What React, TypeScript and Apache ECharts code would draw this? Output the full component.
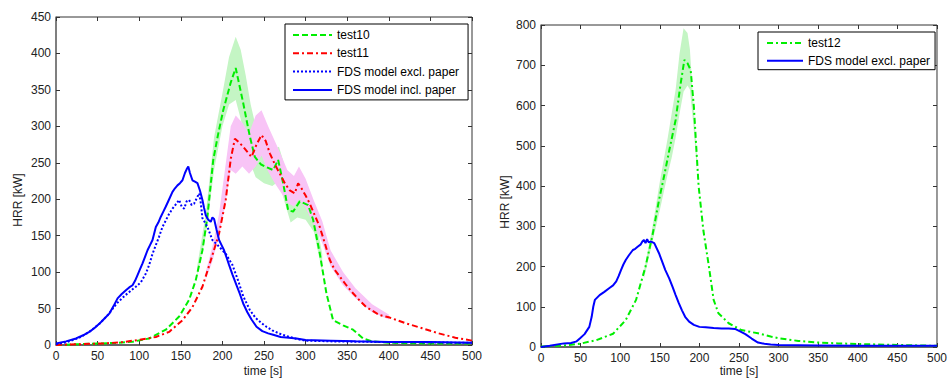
import React, { useEffect, useRef } from "react";
import * as echarts from "echarts";

// ---------- Left chart data: [time s, HRR kW] ----------
const test10: number[][] = [
  [0, 0], [25, 1], [50, 2], [75, 3], [92, 4.5], [112, 9], [132, 21], [148, 39], [160, 62], [168, 89],
  [176, 130], [182, 176], [189, 254], [195, 290], [201, 322], [210, 360], [216, 380], [225, 332],
  [233, 286], [239, 258], [246, 248], [253, 244], [261, 240], [267, 254], [273, 222], [279, 185],
  [285, 183], [293, 197], [303, 192], [309, 172], [317, 126], [325, 71], [333, 34], [345, 27],
  [357, 21], [369, 9], [380, 5], [400, 3], [450, 2], [500, 2],
];
const test11: number[][] = [
  [0, 0], [25, 1], [60, 2.3], [80, 4], [100, 7], [120, 11], [136, 18], [152, 34], [164, 52], [176, 80],
  [186, 116], [196, 153], [204, 199], [210, 255], [215, 283], [220, 278], [225, 272], [230, 265],
  [235, 258], [241, 275], [247, 288], [252, 280], [257, 263], [263, 248], [269, 235], [275, 222],
  [281, 212], [287, 208], [291, 222], [295, 215], [300, 205], [305, 194], [311, 178], [317, 162],
  [323, 140], [329, 117], [335, 103], [341, 94], [349, 82], [357, 71], [365, 61], [373, 52], [389, 41],
  [400, 38], [420, 30], [440, 23], [460, 16], [480, 10], [500, 6],
];
const fdsExclLeft: number[][] = [
  [0, 1], [13, 4], [28, 10], [40, 18], [53, 30], [63, 42], [73, 57], [83, 68], [96, 80], [102, 86],
  [108, 98], [112, 110], [116, 125], [120, 137], [124, 149], [128, 162], [132, 171], [136, 180],
  [140, 187], [144, 193], [148, 199], [151, 190], [154, 187], [157, 197], [160, 199], [163, 192],
  [166, 194], [169, 201], [172, 208], [174, 195], [176, 174], [182, 162], [188, 144], [196, 135],
  [204, 125], [212, 110], [219, 88], [225, 67], [233, 48], [240, 37], [247, 30], [253, 25],
  [260, 20], [270, 15], [281, 11], [290, 8], [300, 6], [330, 5], [400, 4], [500, 3],
];
const fdsInclLeft: number[][] = [
  [0, 2], [12, 5], [24, 9], [32, 13], [40, 18], [46, 23], [52, 29], [58, 36], [64, 43], [69, 53],
  [74, 64], [79, 70], [84, 75], [88, 79], [92, 82], [95, 88], [98, 96], [101, 104], [104, 112],
  [107, 121], [110, 130], [113, 137], [116, 144], [118, 153], [120, 162], [123, 168], [126, 176],
  [129, 183], [132, 190], [136, 200], [140, 210], [143, 215], [146, 219], [149, 222], [152, 226],
  [155, 236], [157, 241], [159, 245], [161, 236], [164, 226], [167, 224], [170, 222], [173, 212],
  [176, 199], [178, 188], [180, 178], [183, 172], [186, 169], [188, 175], [190, 173], [193, 158],
  [196, 144], [199, 137], [202, 130], [205, 120], [208, 110], [212, 97], [216, 85], [221, 70],
  [225, 57], [230, 45], [235, 35], [241, 25], [248, 19], [255, 16], [261, 14], [270, 11], [280, 10],
  [289, 9], [300, 7], [330, 6], [360, 5], [400, 4], [450, 4], [500, 3],
];
// bands: [time, low, high]
const test10Band: number[][] = [
  [170, 95, 110], [180, 150, 180], [190, 240, 285], [200, 300, 345], [208, 330, 395], [216, 336, 423],
  [222, 310, 405], [228, 280, 370], [234, 248, 330], [240, 230, 300], [250, 222, 275], [260, 218, 268],
  [268, 225, 272], [275, 195, 245], [282, 168, 205], [290, 175, 210], [300, 172, 205], [310, 155, 185],
  [320, 100, 125],
];
const test11Band: number[][] = [
  [180, 90, 100], [188, 115, 135], [196, 150, 180], [203, 190, 240], [210, 240, 300], [216, 235, 315],
  [224, 245, 305], [232, 235, 290], [240, 245, 315], [247, 260, 322], [255, 238, 300], [263, 222, 280],
  [270, 210, 262], [278, 195, 240], [286, 190, 232], [292, 200, 245], [300, 188, 228], [310, 165, 198],
  [320, 140, 170], [330, 108, 130], [345, 82, 100], [360, 64, 78], [380, 45, 56], [400, 35, 42],
];

// ---------- Right chart data ----------
const test12: number[][] = [
  [0, 1], [11, 2], [30, 4], [49, 8], [70, 17], [91, 33], [107, 67], [120, 117], [132, 200], [141, 280],
  [149, 365], [156, 430], [162, 489], [170, 564], [176, 650], [181, 713], [185, 705], [189, 688],
  [193, 597], [199, 400], [205, 290], [212, 200], [218, 117], [224, 84], [237, 59], [253, 42],
  [274, 34], [290, 26], [300, 22], [325, 15], [350, 11], [375, 9], [400, 7.5], [450, 5], [500, 3],
];
const fdsExclRight: number[][] = [
  [0, 0], [11, 3], [29, 9], [38, 10], [45, 14], [49, 21], [55, 32], [61, 50], [64, 75], [66, 100],
  [68, 117], [74, 129], [80, 137], [86, 146], [91, 153], [95, 163], [98, 176], [101, 191], [104, 205],
  [107, 216], [111, 228], [116, 241], [119, 244], [122, 249], [126, 255], [128, 262], [130, 266],
  [132, 258], [134, 268], [136, 260], [139, 262], [143, 258], [149, 233], [153, 212], [157, 191],
  [162, 170], [166, 150], [170, 129], [174, 109], [178, 91], [182, 75], [187, 63], [193, 55],
  [200, 50], [208, 49], [218, 47], [228, 46], [237, 46], [245, 45], [252, 38], [258, 32], [266, 21],
  [274, 11], [282, 8], [290, 6], [300, 5], [350, 4], [400, 3], [450, 3], [500, 3],
];
const test12Band: number[][] = [
  [130, 170, 190], [140, 255, 290], [150, 340, 410], [160, 430, 520], [165, 470, 580], [170, 520, 640],
  [175, 580, 730], [180, 634, 792], [185, 650, 780], [188, 640, 740], [192, 560, 620], [197, 440, 470],
];

const xTicksLeft = { min: 0, max: 500, interval: 50 };
const yTicksLeft = { min: 0, max: 450, interval: 50 };
const xTicksRight = { min: 0, max: 500, interval: 50 };
const yTicksRight = { min: 0, max: 800, interval: 100 };

const FONT = "Liberation Sans, Arial, sans-serif";
const GREEN = "#00ee00";
const RED = "#ff0000";
const BLUE = "#0000ff";

function bandSeries(band: number[][], axisIndex: number, color: string) {
  return {
    type: "custom",
    xAxisIndex: axisIndex,
    yAxisIndex: axisIndex,
    data: band,
    encode: { x: 0, y: [1, 2] },
    silent: true,
    z: 1,
    renderItem: (params: any, api: any) => {
      if (params.dataIndex !== 0) return null;
      const upper = band.map((b) => api.coord([b[0], b[2]]));
      const lower = band.slice().reverse().map((b) => api.coord([b[0], b[1]]));
      return {
        type: "polygon",
        shape: { points: upper.concat(lower) },
        style: { fill: color, stroke: null },
      };
    },
  };
}

function lineSeries(name: string, data: number[][], axisIndex: number, color: string, type: any) {
  return {
    type: "line",
    name,
    xAxisIndex: axisIndex,
    yAxisIndex: axisIndex,
    data,
    showSymbol: false,
    symbol: "none",
    z: 3,
    lineStyle: { color, width: 2, type },
    itemStyle: { color },
  };
}

function xAxis(gridIndex: number, t: any, top: boolean) {
  return {
    type: "value",
    gridIndex,
    position: top ? "top" : "bottom",
    min: t.min,
    max: t.max,
    interval: t.interval,
    splitLine: { show: false },
    axisLine: { show: !top, onZero: false, lineStyle: { color: "#555", width: 1.5 } },
    axisTick: { show: true, inside: true, length: 4, lineStyle: { color: "#333" } },
    axisLabel: { show: !top, margin: 5, fontSize: 12, fontFamily: FONT, color: "#222" },
  };
}
function yAxis(gridIndex: number, t: any, right: boolean) {
  return {
    type: "value",
    gridIndex,
    position: right ? "right" : "left",
    min: t.min,
    max: t.max,
    interval: t.interval,
    splitLine: { show: false },
    axisLine: { show: !right, onZero: false, lineStyle: { color: "#777", width: 1.5 } },
    axisTick: { show: true, inside: true, length: 4, lineStyle: { color: "#333" } },
    axisLabel: { show: !right, margin: 5, fontSize: 12, fontFamily: FONT, color: "#222" },
  };
}

const legendCommon = {
  orient: "vertical",
  itemHeight: 12,
  borderColor: "#000",
  borderWidth: 1,
  borderRadius: 0,
  backgroundColor: "#fff",
  selectedMode: false,
  itemStyle: { opacity: 0 },
  textStyle: { fontSize: 12, fontFamily: FONT, color: "#000", lineHeight: 12 },
  formatter: (n: string) => n.replace(" #12", ""),
};

export default function App() {
  const ref = useRef<HTMLDivElement>(null);
  useEffect(() => {
    const chart = echarts.init(ref.current!, null, { renderer: "svg" });
    const option: any = {
      animation: false,
      backgroundColor: "#fff",
      grid: [
        { left: 56, top: 17, width: 416, height: 328, show: true, borderColor: "#333", borderWidth: 1 },
        { left: 541, top: 25, width: 399, height: 322, show: true, borderColor: "#333", borderWidth: 1 },
      ],
      xAxis: [xAxis(0, xTicksLeft, false), xAxis(1, xTicksRight, false), xAxis(0, xTicksLeft, true), xAxis(1, xTicksRight, true)],
      yAxis: [yAxis(0, yTicksLeft, false), yAxis(1, yTicksRight, false), yAxis(0, yTicksLeft, true), yAxis(1, yTicksRight, true)],
      legend: [
        {
          ...legendCommon,
          data: ["test10", "test11", "FDS model excl. paper", "FDS model incl. paper"],
          left: 285,
          top: 24,
          itemWidth: 39,
          itemGap: 6.3,
          padding: [5, 9, 4, 7],
        },
        {
          ...legendCommon,
          data: ["test12", "FDS model excl. paper #12"],
          left: 758,
          top: 32,
          itemWidth: 36,
          itemGap: 5.7,
          padding: [5, 5, 3, 8],
        },
      ],
      series: [
        bandSeries(test10Band, 0, "#c4f5c4"),
        bandSeries(test11Band, 0, "#f8c4f6"),
        bandSeries(test12Band, 1, "#c4f5c4"),
        lineSeries("test10", test10, 0, GREEN, [6, 3]),
        lineSeries("test11", test11, 0, RED, [6, 3, 2, 3]),
        lineSeries("FDS model excl. paper", fdsExclLeft, 0, BLUE, [2, 2]),
        lineSeries("FDS model incl. paper", fdsInclLeft, 0, BLUE, "solid"),
        lineSeries("test12", test12, 1, GREEN, [6, 3, 2, 3]),
        lineSeries("FDS model excl. paper #12", fdsExclRight, 1, BLUE, "solid"),
      ],
      graphic: [
        { type: "text", x: 18, y: 200, rotation: Math.PI / 2, style: { text: "HRR [kW]", fontSize: 12, fontFamily: FONT, fill: "#222", align: "center", verticalAlign: "middle" } },
        { type: "text", x: 505, y: 202, rotation: Math.PI / 2, style: { text: "HRR [kW]", fontSize: 12, fontFamily: FONT, fill: "#222", align: "center", verticalAlign: "middle" } },
        { type: "text", x: 263, y: 371, style: { text: "time [s]", fontSize: 12, fontFamily: FONT, fill: "#222", align: "center", verticalAlign: "middle" } },
        { type: "text", x: 739, y: 371, style: { text: "time [s]", fontSize: 12, fontFamily: FONT, fill: "#222", align: "center", verticalAlign: "middle" } },
      ],
    };
    chart.setOption(option);
    return () => chart.dispose();
  }, []);
  return <div ref={ref} style={{ position: "fixed", left: 0, top: 0, width: 950, height: 379 }} />;
}
